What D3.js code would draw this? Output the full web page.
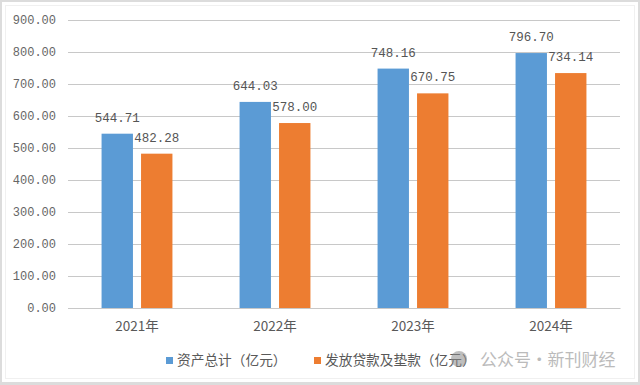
<!DOCTYPE html>
<html>
<head>
<meta charset="utf-8">
<script src="https://cdn.jsdelivr.net/npm/d3@7"></script>
<style>
html, body { margin: 0; padding: 0; background: #fff; }
svg { display: block; }
text { font-family: "Noto Sans CJK SC", sans-serif; }
.num { font-family: "Liberation Mono", "DejaVu Sans Mono", monospace; }
</style>
</head>
<body>
<div id="chart"></div>
<script>
const years = ['2021年', '2022年', '2023年', '2024年'];
const seriesNames = ['资产总计（亿元）', '发放贷款及垫款（亿元）'];
const assets = [544.71, 644.03, 748.16, 796.70];
const loans = [482.28, 578.00, 670.75, 734.14];
const yTicks = [0, 100, 200, 300, 400, 500, 600, 700, 800, 900];
const colors = ['#5b9bd5', '#ed7d31'];

const WIDTH = 640;
const HEIGHT = 385;
const LEFT = 68;
const RIGHT = 620;
const TOP = 20;
const BOTTOM = 308;

const translate = (x, y) => `translate(${x}, ${y})`;

const svg = d3.select('#chart').append('svg')
    .attr('width', WIDTH)
    .attr('height', HEIGHT);

// picture frame: grey screenshot edge plus the faint chart border inside it
const frame = [[0, 0, WIDTH, 2], [0, 0, 2, HEIGHT], [0, 382, WIDTH, 3], [638, 0, 2, HEIGHT]];
svg.selectAll('.edge')
    .data(frame)
    .enter()
    .append('rect')
    .attr('x', d => d[0]).attr('y', d => d[1])
    .attr('width', d => d[2]).attr('height', d => d[3])
    .attr('fill', '#dcdcdc');
svg.append('rect')
    .attr('x', 5.5).attr('y', 5.5)
    .attr('width', 629).attr('height', 373)
    .attr('fill', 'none')
    .attr('stroke', '#f0f0f0');

const xScale = d3.scaleBand().domain(years).range([LEFT, RIGHT]);
const groupScale = d3.scaleBand()
    .domain(d3.range(seriesNames.length))
    .range([0, xScale.bandwidth()])
    .paddingInner(0.205)
    .paddingOuter(0.85);
const yScale = d3.scaleLinear().domain([0, 900]).range([BOTTOM, TOP]);

const yAxis = d3.axisLeft(yScale)
    .tickValues(yTicks)
    .tickSize(LEFT - RIGHT)
    .tickPadding(12)
    .tickFormat(d3.format('.2f'));

const yG = svg.append('g')
    .attr('transform', translate(LEFT, 0))
    .call(yAxis);
yG.select('.domain').remove();
yG.selectAll('.tick line').attr('stroke', '#c8c8c8').attr('stroke-width', 1.2);
yG.selectAll('.tick text')
    .attr('class', 'num')
    .attr('fill', '#666')
    .attr('font-size', 12);

const xAxis = d3.axisBottom(xScale).tickSize(0).tickPadding(13);
const xG = svg.append('g')
    .attr('transform', translate(0, BOTTOM))
    .call(xAxis);
xG.select('.domain').attr('stroke', '#c8c8c8').attr('stroke-width', 1.2);
xG.selectAll('.tick text')
    .attr('fill', '#595959')
    .attr('font-size', 13.5);

[assets, loans].forEach((values, s) => {
    const g = svg.append('g');
    g.selectAll('rect')
        .data(values)
        .enter()
        .append('rect')
        .attr('x', (d, i) => xScale(years[i]) + groupScale(s))
        .attr('y', d => yScale(d))
        .attr('width', groupScale.bandwidth())
        .attr('height', d => BOTTOM - yScale(d))
        .attr('fill', colors[s]);

    g.selectAll('text')
        .data(values)
        .enter()
        .append('text')
        .attr('class', 'num')
        .attr('x', (d, i) => xScale(years[i]) + groupScale(s) + groupScale.bandwidth() / 2)
        .attr('y', d => yScale(d) - 12)
        .attr('text-anchor', 'middle')
        .attr('fill', '#555')
        .attr('font-size', 12.5)
        .text(d => d.toFixed(2));
});

// legend
const legendX = [166, 314];
seriesNames.forEach((name, i) => {
    svg.append('rect')
        .attr('x', legendX[i]).attr('y', 357)
        .attr('width', 7).attr('height', 7)
        .attr('fill', colors[i]);
    svg.append('text')
        .attr('x', legendX[i] + 11).attr('y', 365)
        .attr('fill', '#595959')
        .attr('font-size', 13.7)
        .text(name);
});

// watermark
svg.append('circle')
    .attr('cx', 459).attr('cy', 359).attr('r', 8)
    .attr('fill', '#888').attr('opacity', 0.55);
svg.append('text')
    .attr('x', 480).attr('y', 366)
    .attr('fill', '#bbb')
    .attr('font-size', 17)
    .attr('word-spacing', -4)
    .text('公众号 · 新刊财经');
</script>
</body>
</html>
